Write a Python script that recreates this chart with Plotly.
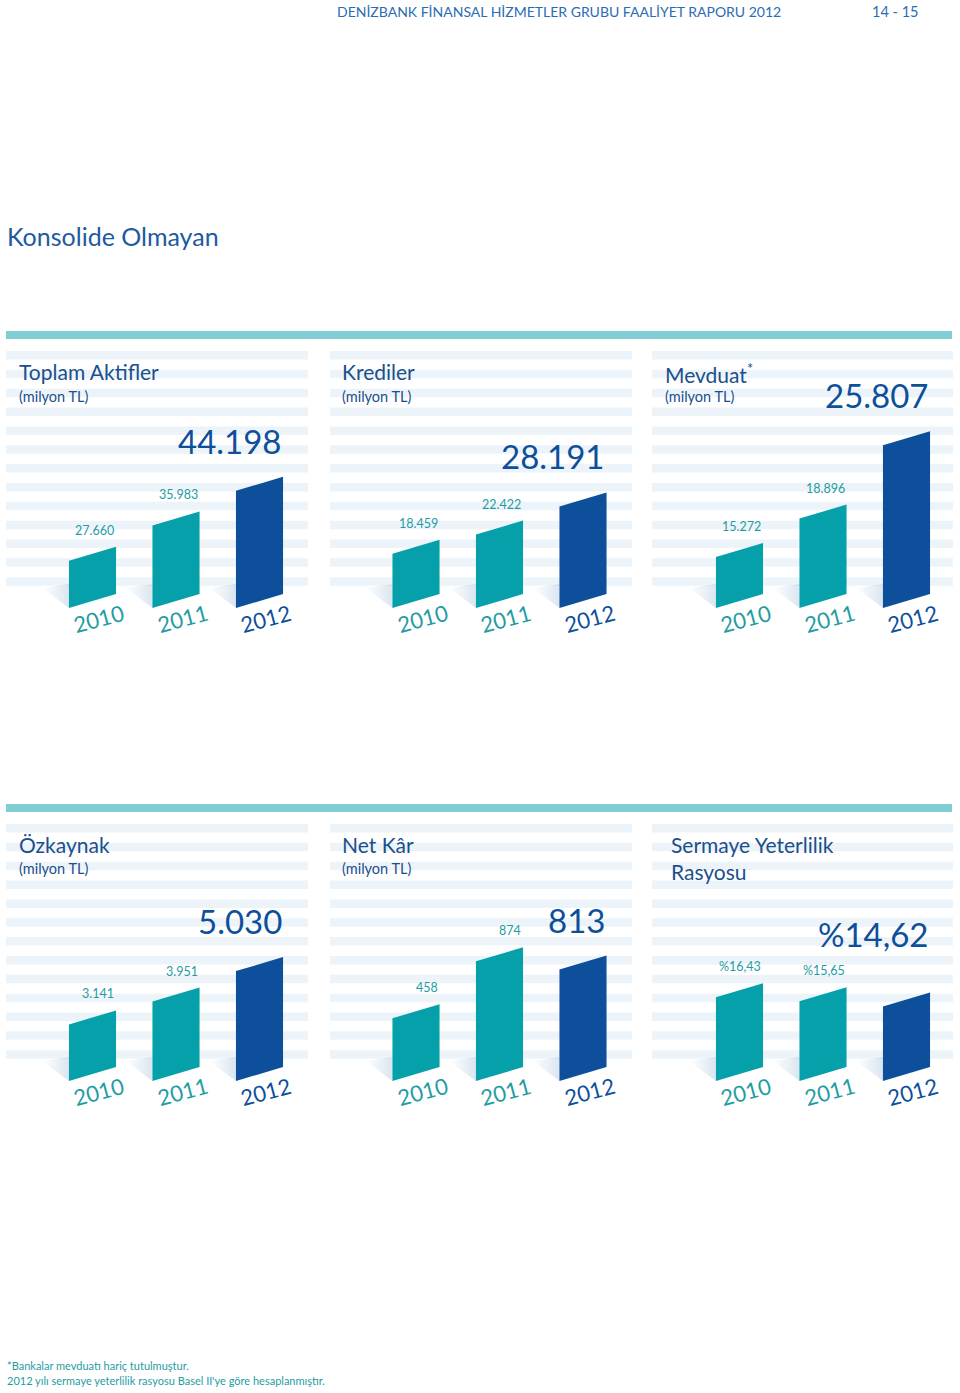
import plotly.graph_objects as go

# ---------------- data ----------------
years = ["2010", "2011", "2012"]
panel_titles = ["Toplam Aktifler", "Krediler", "Mevduat<sup>*</sup>",
                "Özkaynak", "Net Kâr", "Sermaye Yeterlilik<br>Rasyosu"]
panel_subtitles = ["(milyon TL)", "(milyon TL)", "(milyon TL)",
                   "(milyon TL)", "(milyon TL)", ""]
toplam_aktifler = [27660, 35983, 44198]
krediler = [18459, 22422, 28191]
mevduat = [15272, 18896, 25807]
ozkaynak = [3141, 3951, 5030]
net_kar = [458, 874, 813]
sermaye_yeterlilik = [16.43, 15.65, 14.62]
value_kinds = ["int", "int", "int", "int", "int", "pct"]

header_title = "DENİZBANK FİNANSAL HİZMETLER GRUBU FAALİYET RAPORU 2012"
page_numbers = "14 - 15"
section_title = "Konsolide Olmayan"
footnotes = ["*Bankalar mevduatı hariç tutulmuştur.",
             "2012 yılı sermaye yeterlilik rasyosu Basel II'ye göre hesaplanmıştır."]

panels = [toplam_aktifler, krediler, mevduat, ozkaynak, net_kar, sermaye_yeterlilik]

# ---------------- style / layout ----------------
W, H = 960, 1393
FONT = "Lato"
C_TEAL = "#06a0ab"
C_DARK = "#0d4f9b"
C_TITLE = "#1b4f8d"
C_LABEL = "#1f9ca3"
C_STRIPE = "#edf4f9"
C_BAND = "#80ced4"
C_HEADER = "#2a6cb3"

Y_RANGES = [(16480, 77470), (7300, 60390), (10460, 34800),
            (1135, 10280), (0, 1883), (0, 50.6)]
BIG_SHIFT = [14, 14, 14, 14, 14, 36]

PLOT_LEFT = [42.4, 365.9, 689.4]
PLOT_W = 267.2
PLOT_H = 258
ROW_BASE = [608, 1081]
ROW_OFF = [0, 473]
STRIPE_COLS = [(6, 308), (330, 632), (652, 953)]
TITLE_X = [17, 340, 663, 17, 340, 669]
HW = 0.282
SLANT_PX = 14


def fmt(v, kind):
    if kind == "pct":
        return "%" + f"{v:.2f}".replace(".", ",")
    return f"{v:,}".replace(",", ".")


def py(px):
    return 1 - px / H


fig = go.Figure()
shapes = []
annotations = []
layout_axes = {}

# bands and stripes
for r in range(2):
    off = ROW_OFF[r]
    shapes.append(dict(type="rect", xref="paper", yref="paper", layer="below",
                       x0=6 / W, x1=952 / W, y0=py(339 + off), y1=py(331 + off),
                       fillcolor=C_BAND, line=dict(width=0)))
    for (a, b) in STRIPE_COLS:
        for k in range(13):
            top = 351 + off + k * 18.85
            shapes.append(dict(type="rect", xref="paper", yref="paper", layer="below",
                               x0=a / W, x1=b / W, y0=py(top + 8.5), y1=py(top),
                               fillcolor=C_STRIPE, line=dict(width=0)))

for p, vals in enumerate(panels):
    row, col = divmod(p, 3)
    k = p + 1
    xa = "x" if k == 1 else f"x{k}"
    ya = "y" if k == 1 else f"y{k}"
    base = ROW_BASE[row]
    y0, y1 = Y_RANGES[p]
    ppu = PLOT_H / (y1 - y0)
    s = SLANT_PX / ppu
    layout_axes["xaxis" if k == 1 else f"xaxis{k}"] = dict(
        domain=[PLOT_LEFT[col] / W, (PLOT_LEFT[col] + PLOT_W) / W],
        range=[-0.6, 2.6], visible=False, anchor=ya, fixedrange=True)
    layout_axes["yaxis" if k == 1 else f"yaxis{k}"] = dict(
        domain=[py(base), py(base - PLOT_H)],
        range=[y0, y1], visible=False, anchor=xa, fixedrange=True)

    for i, v in enumerate(vals):
        color = C_DARK if i == 2 else C_TEAL
        xl, xr = i - HW, i + HW
        # soft shadow
        fig.add_trace(go.Scatter(
            x=[xl, xl - 0.32, xl, xl], y=[y0, y0 + 20 / ppu, y0 + 24 / ppu, y0],
            fill="toself", mode="lines", line=dict(width=0),
            fillgradient=dict(type="horizontal",
                              colorscale=[[0, "rgba(160,188,215,0)"],
                                          [1, "rgba(160,188,215,0.38)"]]),
            hoverinfo="skip", showlegend=False, xaxis=xa, yaxis=ya))
        # parallelogram bar
        fig.add_trace(go.Scatter(
            x=[xl, xr, xr, xl, xl], y=[y0, y0 + s, v + s, v, y0],
            fill="toself", mode="lines", fillcolor=color, line=dict(width=0, color=color),
            hoverinfo="skip", showlegend=False, xaxis=xa, yaxis=ya))
        # value label
        if i < 2:
            annotations.append(dict(
                x=xr, y=v + s, xref=xa, yref=ya, xanchor="right", yanchor="bottom",
                yshift=7, showarrow=False, text=fmt(v, value_kinds[p]),
                font=dict(family=FONT, size=12.5, color=C_LABEL)))
        else:
            annotations.append(dict(
                x=xr + 0.01, y=v + s, xref=xa, yref=ya, xanchor="right", yanchor="bottom",
                yshift=BIG_SHIFT[p], showarrow=False, text=fmt(v, value_kinds[p]),
                font=dict(family=FONT, size=33, color=C_DARK)))
        # year label
        annotations.append(dict(
            x=i, y=0, xref=xa, yref=f"{ya} domain", xanchor="center", yanchor="middle",
            xshift=6, yshift=-10, textangle=-15, showarrow=False, text=years[i],
            font=dict(family=FONT, size=22, color=C_DARK if i == 2 else C_LABEL)))

    # titles
    annotations.append(dict(
        x=TITLE_X[p] / W, y=py(357 + ROW_OFF[row]), xref="paper", yref="paper",
        xanchor="left", yanchor="top", showarrow=False, text=panel_titles[p],
        align="left", font=dict(family=FONT, size=21, color=C_TITLE)))
    if panel_subtitles[p]:
        annotations.append(dict(
            x=TITLE_X[p] / W, y=py(396 + ROW_OFF[row]), xref="paper", yref="paper",
            xanchor="left", yanchor="middle", showarrow=False, text=panel_subtitles[p],
            font=dict(family=FONT, size=14.5, color=C_TITLE)))

# page texts
annotations.append(dict(x=335 / W, y=py(11), xref="paper", yref="paper", xanchor="left",
                        yanchor="middle", showarrow=False, text=header_title,
                        font=dict(family=FONT, size=14, color=C_HEADER)))
annotations.append(dict(x=870 / W, y=py(11), xref="paper", yref="paper", xanchor="left",
                        yanchor="middle", showarrow=False, text=page_numbers,
                        font=dict(family=FONT, size=14.5, color=C_HEADER)))
annotations.append(dict(x=5 / W, y=py(236), xref="paper", yref="paper", xanchor="left",
                        yanchor="middle", showarrow=False, text=section_title,
                        font=dict(family=FONT, size=25, color="#1d5a9e")))
for j, t in enumerate(footnotes):
    annotations.append(dict(x=5 / W, y=py(1365 + 15 * j), xref="paper", yref="paper",
                            xanchor="left", yanchor="middle", showarrow=False, text=t,
                            font=dict(family=FONT, size=11, color=C_LABEL)))

fig.update_layout(
    width=W, height=H, margin=dict(l=0, r=0, t=0, b=0),
    paper_bgcolor="white", plot_bgcolor="rgba(0,0,0,0)",
    showlegend=False, shapes=shapes, annotations=annotations, **layout_axes)

fig.write_html("out.html", config={"displayModeBar": False})
